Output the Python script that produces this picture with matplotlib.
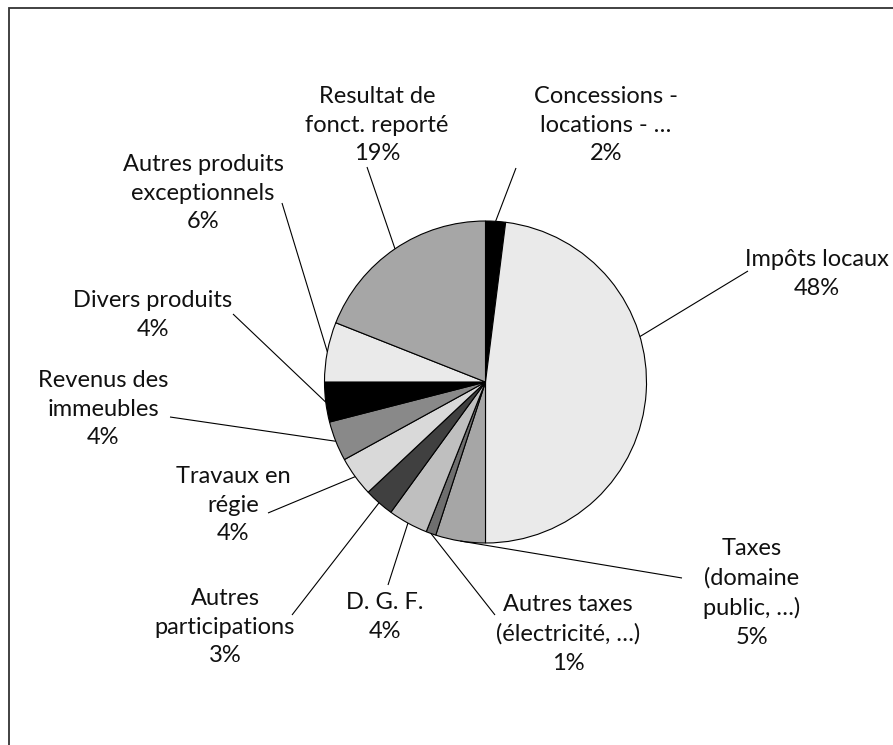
import numpy as np
import matplotlib
matplotlib.use('Agg')
import matplotlib.pyplot as plt
from matplotlib.patches import Rectangle

# slice data, clockwise from 12 o'clock
labels = [
    'Concessions -\nlocations - \u2026',
    'Imp\u00f4ts locaux',
    'Taxes\n(domaine\npublic, \u2026)',
    'Autres taxes\n(\u00e9lectricit\u00e9, \u2026)',
    'D. G. F.',
    'Autres\nparticipations',
    'Travaux en\nr\u00e9gie',
    'Revenus des\nimmeubles',
    'Divers produits',
    'Autres produits\nexceptionnels',
    'Resultat de\nfonct. report\u00e9',
]
shares = [2, 48, 5, 1, 4, 3, 4, 4, 4, 6, 19]
colors = ['#000000', '#eaeaea', '#a6a6a6', '#6e6e6e', '#bfbfbf', '#404040',
          '#d9d9d9', '#898989', '#000000', '#eaeaea', '#a6a6a6']

# layout (pixels, image coords: y down)
W, H = 893, 745
cx, cy, R = 485.5, 382, 161
label_pos = [(606, 125), (817, 274), (752, 593), (568, 634), (385, 617), (225, 627),
             (233, 505), (103, 409), (153, 315), (203, 193), (377, 125)]
line_end = [(516, 168), (748, 271), (682, 578), (495, 615), (388, 585), (292, 615),
            (268, 513), (170, 417), (233, 314), (282, 203), (367, 167)]
# anchor angle override (deg clockwise from top) where leader is not at mid-slice
anchor_override = {1: 73.6}

fig = plt.figure(figsize=(W / 100, H / 100), dpi=100)
ax = fig.add_axes([0, 0, 1, 1])

ax.pie(shares, colors=colors, startangle=90, counterclock=False, radius=R,
       center=(cx, H - cy),
       wedgeprops=dict(edgecolor='black', linewidth=0.8))
ax.set_xlim(0, W)
ax.set_ylim(0, H)
ax.set_aspect('auto')
ax.axis('off')

cum = np.cumsum([0] + shares)
for i, lab in enumerate(labels):
    mid = (cum[i] + cum[i + 1]) / 2 / sum(shares) * 360
    ang = np.radians(anchor_override.get(i, mid))
    ax_x = cx + R * np.sin(ang)
    ax_y = cy - R * np.cos(ang)
    ex, ey = line_end[i]
    ax.plot([ax_x, ex], [H - ax_y, H - ey], color='black', lw=0.8,
            solid_capstyle='butt')
    lx, ly = label_pos[i]
    ax.text(lx, H - ly, f'{lab}\n{shares[i]}%', ha='center', va='center',
            multialignment='center', fontsize=17, family='Lato',
            linespacing=1.45, color='#111111')

# outer frame (runs off the right and bottom edges)
fig.add_artist(Rectangle((8.5 / W, -0.1), 1.2, (H - 7.5) / H + 0.1,
                         transform=fig.transFigure, fill=False,
                         edgecolor='#333333', linewidth=1.3))

fig.savefig('out.png', dpi=100)
